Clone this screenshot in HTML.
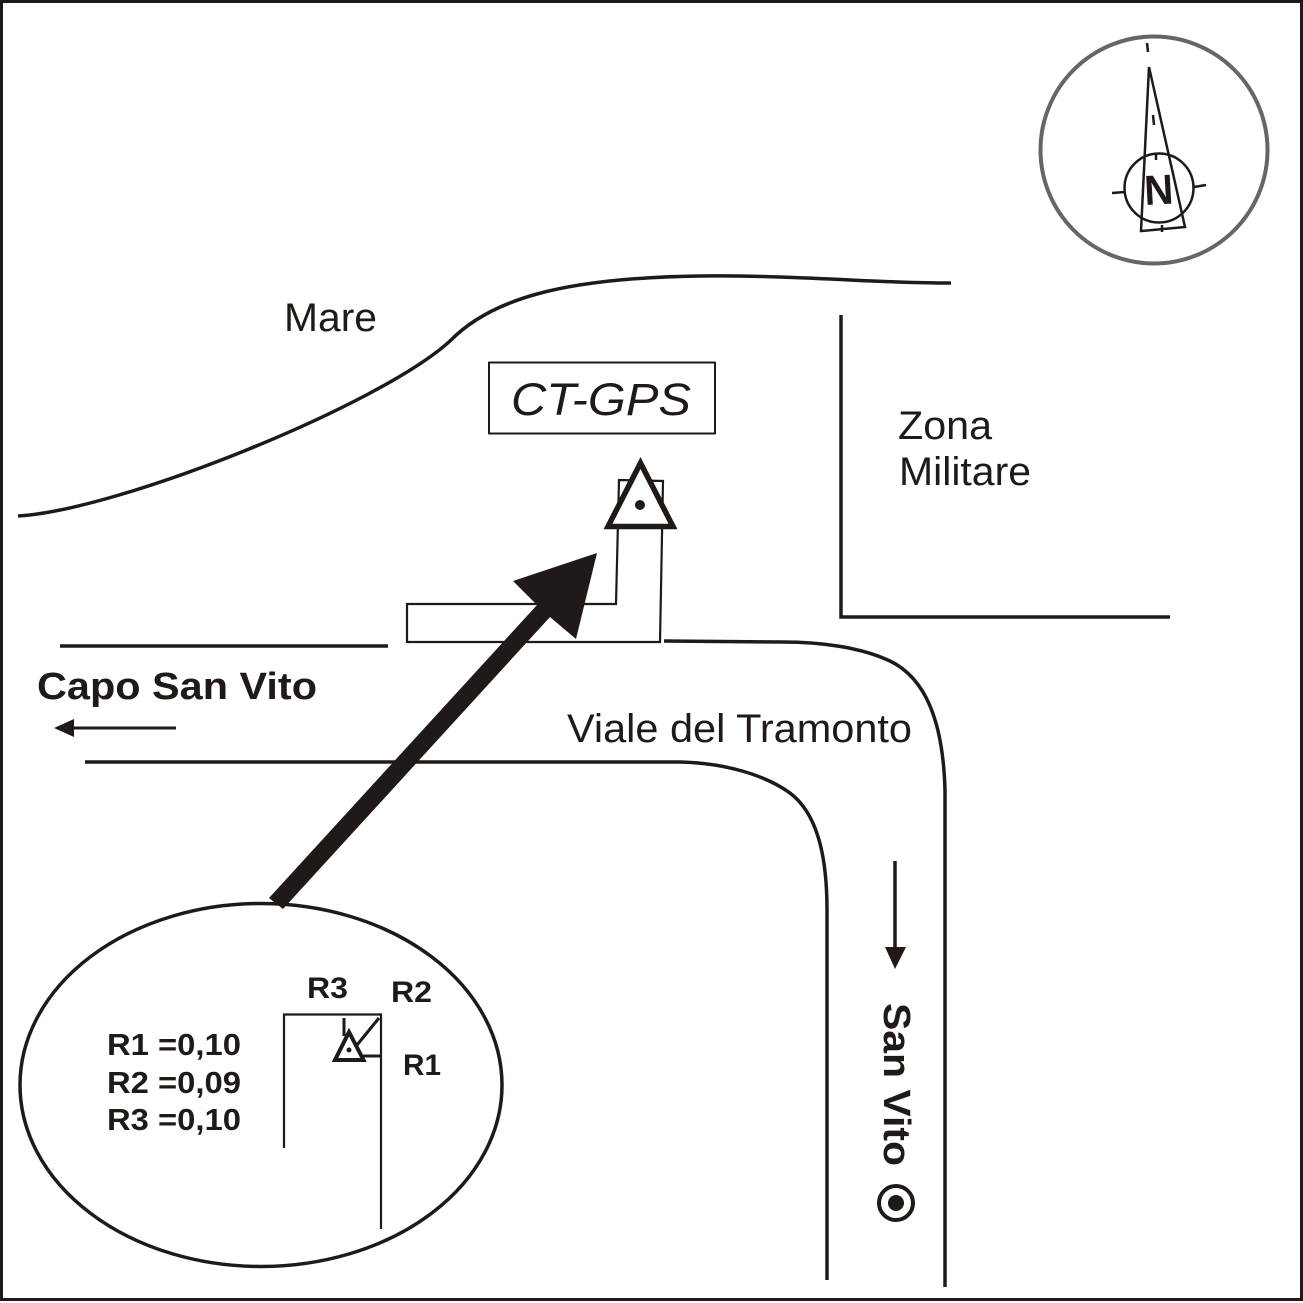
<!DOCTYPE html>
<html><head><meta charset="utf-8"><style>html,body{margin:0;padding:0;background:#fff}svg{display:block}text{font-family:"Liberation Sans",sans-serif;fill:#1f1a17}</style></head><body>
<svg width="1303" height="1303" viewBox="0 0 1303 1303" xmlns="http://www.w3.org/2000/svg">
<rect x="1.5" y="1.5" width="1300" height="1298" fill="#fff" stroke="#1f1a17" stroke-width="3"/>
<g fill="none" stroke="#1f1a17" stroke-linecap="butt" stroke-linejoin="round">
<!-- compass -->
<circle cx="1154" cy="150" r="113.5" stroke="#666" stroke-width="4"/>
<circle cx="1159" cy="188" r="34.5" stroke-width="2.5"/>
<path d="M1149 67L1141 231L1185 227Z" stroke-width="2.5" stroke-linejoin="miter"/>
<path d="M1147 43L1148 52M1153 115L1154 125M1156 153L1156 160M1194 187L1206 185M1112 193L1125 192M1162 225L1162 232" stroke-width="2.5"/>
<!-- coast -->
<path d="M18 516C120 510 380 405 450 341C490 300 560 278 700 276C800 275 890 284 951 283" stroke-width="3.5"/>
<!-- military -->
<path d="M841 315L841 617L1170 617" stroke-width="3.5" stroke-linejoin="miter"/>
<!-- label box -->
<rect x="489" y="362.500" width="226" height="71" stroke-width="2"/>
<!-- building -->
<path d="M407 604L616 604L619 480L663 481L660 642L407 642Z" stroke-width="2.200" stroke-linejoin="miter"/>
<!-- roads -->
<path d="M60 646L388 646" stroke-width="3.500"/>
<path d="M664 641L783 642C820 642 860 647 890 661C925 678 943 720 945 790L945 1287" stroke-width="3.500"/>
<path d="M85 762L680 762C725 763 765 775 790 793C815 812 827 850 827 910L827 1280" stroke-width="3.500"/>
<!-- small arrows line -->
<path d="M70 728L176 728" stroke-width="3"/>
<path d="M895 861L895 950" stroke-width="3.500"/>
<!-- inset -->
<ellipse cx="261" cy="1085" rx="241" ry="181.500" stroke-width="3.500"/>
<path d="M284 1148L284 1014.500L381 1014.500L381 1229" stroke-width="2.200" stroke-linejoin="miter"/>
<path d="M344 1018L344 1036M379 1018L357 1045M360 1056L381 1056" stroke-width="3"/>
<path d="M349 1032L335 1060L363.500 1060Z" stroke-width="4" stroke-linejoin="miter"/>
<!-- target -->
<circle cx="896" cy="1203" r="17" stroke-width="4"/>
<!-- station triangle -->
<path d="M640.500 463L608 526.500L673 526.500Z" fill="#fff" stroke-width="5.500" stroke-linejoin="miter"/>
</g>
<g fill="#1f1a17" stroke="none">
<circle cx="640" cy="505" r="5"/>
<circle cx="349" cy="1050" r="2.500"/>
<circle cx="896" cy="1203" r="8"/>
<path d="M54 728L74 719L74 737Z"/>
<path d="M895 969L885 947L906 947Z"/>
<path d="M597 553L513 581L537 605L269 898L283 909L550 617L576 639Z"/>
</g>
<text x="284" y="331" font-size="40" textLength="93" lengthAdjust="spacingAndGlyphs">Mare</text>
<text x="511" y="415" font-size="45" font-style="italic" textLength="180" lengthAdjust="spacingAndGlyphs">CT-GPS</text>
<text x="898" y="439" font-size="40" textLength="94" lengthAdjust="spacingAndGlyphs">Zona</text>
<text x="899" y="485" font-size="40" textLength="132" lengthAdjust="spacingAndGlyphs">Militare</text>
<text x="37" y="699" font-size="38" font-weight="bold" textLength="280" lengthAdjust="spacingAndGlyphs">Capo San Vito</text>
<text x="567" y="742" font-size="40" textLength="345" lengthAdjust="spacingAndGlyphs">Viale del Tramonto</text>
<text transform="translate(884 1003) rotate(90)" font-size="38" font-weight="bold" textLength="163" lengthAdjust="spacingAndGlyphs">San Vito</text>
<text x="107" y="1055" font-size="31" font-weight="bold" textLength="134" lengthAdjust="spacingAndGlyphs">R1 =0,10</text>
<text x="107" y="1093" font-size="31" font-weight="bold" textLength="134" lengthAdjust="spacingAndGlyphs">R2 =0,09</text>
<text x="107" y="1130" font-size="31" font-weight="bold" textLength="134" lengthAdjust="spacingAndGlyphs">R3 =0,10</text>
<text x="307" y="998" font-size="30" font-weight="bold" textLength="41" lengthAdjust="spacingAndGlyphs">R3</text>
<text x="391" y="1002" font-size="30" font-weight="bold" textLength="41" lengthAdjust="spacingAndGlyphs">R2</text>
<text x="403" y="1075" font-size="30" font-weight="bold" textLength="38" lengthAdjust="spacingAndGlyphs">R1</text>
<text transform="translate(1145 205) rotate(-3)" font-size="42" font-weight="bold" textLength="29" lengthAdjust="spacingAndGlyphs">N</text>
</svg>
</body></html>
